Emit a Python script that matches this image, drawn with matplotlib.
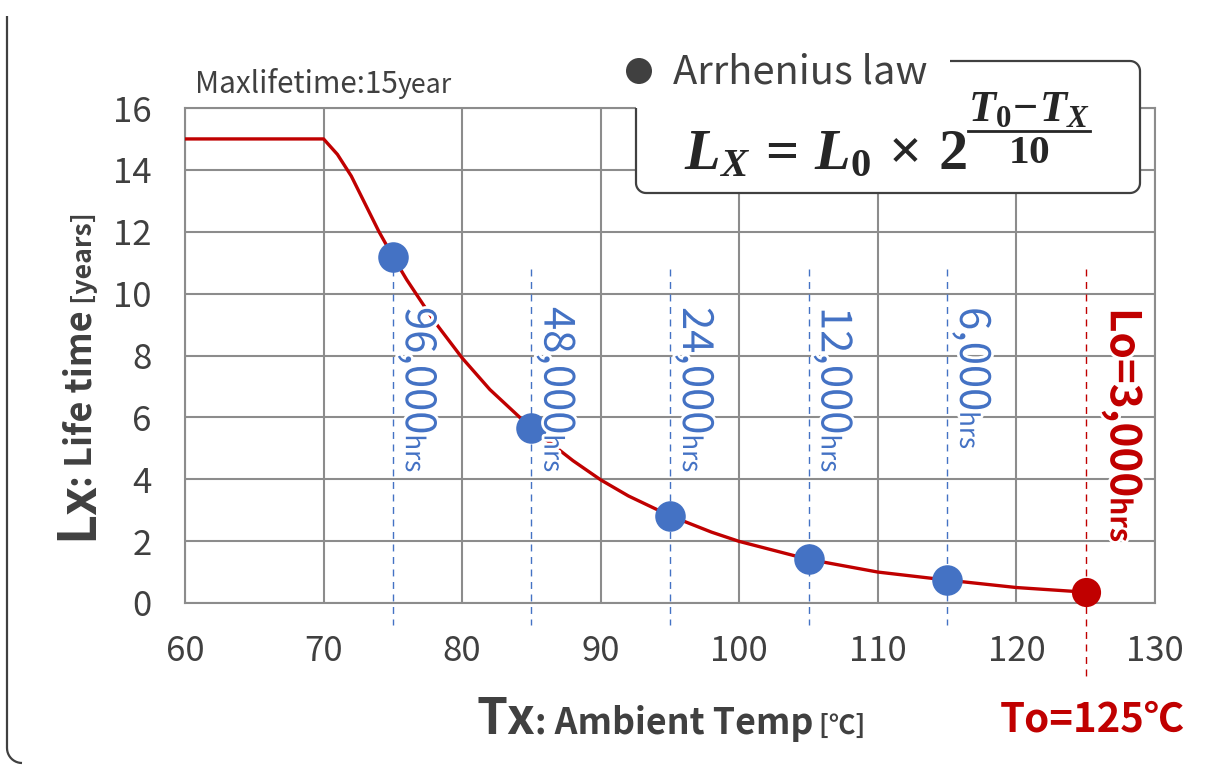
import numpy as np
import matplotlib
matplotlib.use('Agg')
import matplotlib.pyplot as plt
from matplotlib.transforms import IdentityTransform
from matplotlib.path import Path
from matplotlib.patches import PathPatch, FancyBboxPatch, Ellipse
from matplotlib.lines import Line2D
import matplotlib.patheffects as pe

# ---------------- data ----------------
curve_T = [60, 70, 71, 72, 73, 74, 75, 76, 78, 80, 82, 85, 88, 90, 92, 95, 98,
           100, 105, 110, 115, 120, 125]
curve_L = [15, 15, 14.5, 13.8, 12.9, 12.0, 11.2, 10.45, 9.1, 7.92, 6.9, 5.65,
           4.6, 3.98, 3.46, 2.82, 2.29, 1.99, 1.41, 1.0, 0.74, 0.5, 0.35]
point_T = [75, 85, 95, 105, 115]
point_L = [11.2, 5.65, 2.82, 1.41, 0.74]
point_hours = ['96,000', '48,000', '24,000', '12,000', '6,000']
ref_T = 125
ref_L = 0.35
ref_hours = '3,000'
x_ticks = [60, 70, 80, 90, 100, 110, 120, 130]
y_ticks = [0, 2, 4, 6, 8, 10, 12, 14, 16]

# ---------------- style ----------------
W, H = 1213, 765
RED = '#C00000'
BLUE = '#4472C4'
GRID = '#8c8c8c'
TXT = '#404040'

plt.rcParams['font.family'] = ['Noto Sans CJK JP', 'DejaVu Sans']
plt.rcParams['mathtext.fontset'] = 'custom'
plt.rcParams['mathtext.rm'] = 'Liberation Serif:bold'
plt.rcParams['mathtext.it'] = 'Liberation Serif:italic:bold'
plt.rcParams['mathtext.bf'] = 'Liberation Serif:bold'

fig = plt.figure(figsize=(W / 100, H / 100), dpi=100)
fig.patch.set_facecolor('white')
renderer = fig.canvas.get_renderer()
ID = IdentityTransform()
halo = [pe.withStroke(linewidth=4, foreground='white')]


def add_text(s, x, y, size, weight='normal', color=TXT, rot=0, ha='left',
             va='baseline', **kw):
    return fig.text(x, H - y, s, fontsize=size, fontweight=weight, color=color,
                    rotation=rot, rotation_mode='anchor', ha=ha, va=va,
                    transform=ID, **kw)


def width_of(t):
    r = t.get_rotation()
    t.set_rotation(0)
    w = t.get_window_extent(renderer).width
    t.set_rotation(r)
    return w


def chain(pieces, x, y, rot=0, anchor='start', effects=None, fit=None,
          scale=None, kern=None):
    objs = [add_text(s, 0, 0, size, weight, color) for (s, size, weight, color) in pieces]
    ws = [width_of(t) for t in objs]
    f = 1.0
    if fit is not None:
        f = fit / sum(ws)
    if scale is not None:
        f = scale
    if f != 1.0:
        for t, p in zip(objs, pieces):
            t.set_fontsize(p[1] * f)
        ws = [width_of(t) for t in objs]
    if kern is not None:
        ws = [w + k for w, k in zip(ws, kern)]
    total = sum(ws)
    off = {'start': 0, 'center': -total / 2, 'end': -total}[anchor]
    d = {0: (1, 0), 90: (0, 1), -90: (0, -1)}[rot]
    bx, by = x, H - y
    cum = off
    for t, w in zip(objs, ws):
        t.set_position((bx + d[0] * cum, by + d[1] * cum))
        t.set_rotation(rot)
        if effects:
            t.set_path_effects(effects)
        cum += w
    return objs, f


# ---------------- axes ----------------
ax = fig.add_axes([185 / W, 1 - 603 / H, 970 / W, 495 / H])
ax.set_xlim(60, 130)
ax.set_ylim(0, 16)
ax.set_xticks(x_ticks)
ax.set_yticks(y_ticks)
ax.grid(True, color=GRID, lw=1.5)
ax.set_axisbelow(True)
for sp in ax.spines.values():
    sp.set_color(GRID)
    sp.set_linewidth(1.5)
ax.tick_params(length=0, labelsize=25, labelcolor=TXT)
ax.tick_params(axis='x', pad=22)
ax.tick_params(axis='y', pad=24)

for T in point_T:
    ax.plot([T, T], [10.8, -0.7], color=BLUE, lw=1.0, ls=(0, (5, 4)),
            clip_on=False, zorder=2)
ax.plot([ref_T, ref_T], [10.8, -2.4], color=RED, lw=1.0, ls=(0, (5, 4)),
        clip_on=False, zorder=2)

ax.plot(curve_T, curve_L, color=RED, lw=2.4, zorder=3)
ax.plot(point_T, point_L, ls='none', marker='o', ms=22, color=BLUE,
        mec='none', zorder=4, clip_on=False)
ax.plot([ref_T], [ref_L], ls='none', marker='o', ms=21, color=RED,
        mec='none', zorder=4, clip_on=False)

# hours labels (rotated, reading top to bottom)
scale_h = None
for T, h in zip(point_T, point_hours):
    xp = ax.transData.transform((T, 0))[0]
    if scale_h is None:
        _, scale_h = chain([(h, 29, 'normal', BLUE), ('hrs', 18, 'normal', BLUE)],
                           xp + 13, 307, rot=-90, effects=halo, fit=165)
    else:
        chain([(h, 29, 'normal', BLUE), ('hrs', 18, 'normal', BLUE)],
              xp + 13, 307, rot=-90, effects=halo, scale=scale_h)
xr = ax.transData.transform((ref_T, 0))[0]
chain([('Lo=' + ref_hours, 28, 'bold', RED), ('hrs', 19, 'bold', RED)],
      xr + 25, 308, rot=-90, effects=halo, fit=234)

# ---------------- labels ----------------
chain([('Lx', 33, 'bold', TXT), (': Life time', 23, 'bold', TXT),
       (' [years]', 17, 'bold', TXT)], 92, 376, rot=90, anchor='center',
      fit=334, kern=[-6, 0, 0])
chain([('Tx', 32, 'bold', TXT), (': Ambient Temp', 23, 'bold', TXT),
       (' [℃]', 17, 'bold', TXT)], 671, 734, rot=0, anchor='center', fit=389)
chain([('To=125℃', 28, 'bold', RED)], 1092, 731, rot=0, anchor='center', fit=185)
chain([('Maxlifetime:15', 19, 'normal', TXT), ('year', 17, 'normal', TXT)],
      195, 93, fit=257)

# ---------------- legend / formula box ----------------
box_fill = FancyBboxPatch((636, H - 193), 504, 132,
                          boxstyle='round,pad=0,rounding_size=10',
                          fc='white', ec='none', transform=ID, zorder=1)
fig.add_artist(box_fill)


def arc(cx, cy, r, a0, a1, n=12):
    a = np.linspace(np.radians(a0), np.radians(a1), n)
    return list(zip(cx + r * np.cos(a), cy + r * np.sin(a)))


r = 10
L_, R_, T_, B_ = 636, 1140, H - 61, H - 193
verts = [(L_, H - 108), (L_, B_ + r)]
verts += arc(L_ + r, B_ + r, r, 180, 270)
verts += [(R_ - r, B_)]
verts += arc(R_ - r, B_ + r, r, 270, 360)
verts += [(R_, T_ - r)]
verts += arc(R_ - r, T_ - r, r, 0, 90)
verts += [(950, T_)]
fig.add_artist(PathPatch(Path(verts), fc='none', ec=TXT, lw=1.6,
                         transform=ID, zorder=2))

fig.add_artist(Ellipse((639, H - 71), 26, 26, fc=TXT, ec='none',
                       transform=ID, zorder=3))
chain([('Arrhenius law', 25, 'normal', TXT)], 673, 84, fit=255)

FCOL = '#262626'
chain([(r'$L_X \,=\, L_0 \,\times\, 2$', 34, 'normal', FCOL)], 684, 169, fit=284)
chain([(r'$T_0\!-\!T_X$', 26, 'normal', FCOL)], 1029, 121, anchor='center', fit=122)
chain([(r'$10$', 26, 'normal', FCOL)], 1029, 163, anchor='center', fit=42)
fig.add_artist(Line2D([968, 1090], [H - 131, H - 131], color=FCOL, lw=2.0,
                      transform=ID, zorder=3))

# ---------------- outer frame ----------------
fr = 15
fverts = [(7, H - 16), (7, H - (763 - fr))]
fverts += arc(7 + fr, H - (763 - fr), fr, 180, 270)
fig.add_artist(PathPatch(Path(fverts), fc='none', ec=TXT, lw=1.6,
                         transform=ID, zorder=2))

fig.savefig('out.png', dpi=100, facecolor='white')
